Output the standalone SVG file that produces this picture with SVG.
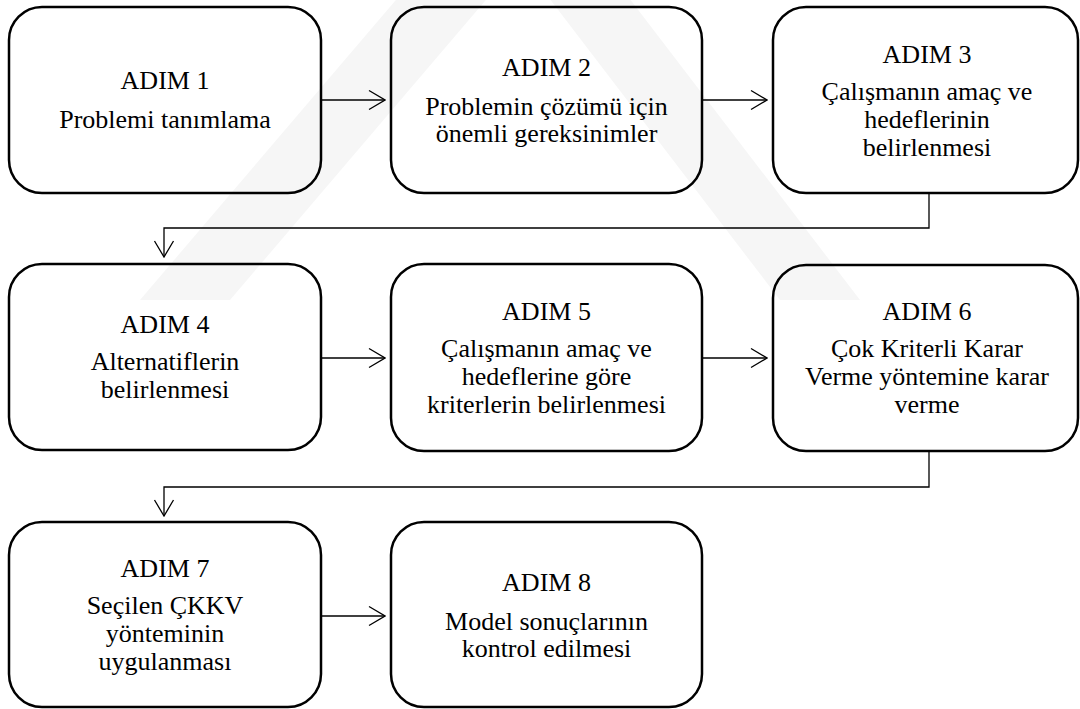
<svg xmlns="http://www.w3.org/2000/svg" width="1080" height="709" viewBox="0 0 1080 709">
  <defs>
    <marker id="arr" viewBox="0 0 18 22" refX="17" refY="11" markerWidth="18" markerHeight="22" markerUnits="userSpaceOnUse" orient="auto">
      <path d="M1,1.5 L17,11 L1,20.5" fill="none" stroke="#000" stroke-width="1.3"/>
    </marker>
  </defs>
  <style>
    .box { fill: none; stroke: #000; stroke-width: 2.5; }
    text { font-size: 26px; fill: #000; text-anchor: middle; }
    .t { font-family: 'Liberation Serif', 'Times New Roman', serif; }
    .c { fill: none; stroke: #000; stroke-width: 1.3; }
    .wm { fill: #f6f6f6; }
  </style>
  <rect width="1080" height="709" fill="#fff"/>
  <g id="watermark">
    <polygon class="wm" points="430,-40 520,-40 230,300 140,300"/>
    <polygon class="wm" points="520,-40 600,-40 860,300 780,300"/>
  </g>
  <g id="connectors">
    <line class="c" x1="321" y1="100" x2="385" y2="100" marker-end="url(#arr)"/>
    <line class="c" x1="702" y1="100" x2="767" y2="100" marker-end="url(#arr)"/>
    <polyline class="c" points="929,193 929,228 164,228 164,257" marker-end="url(#arr)"/>
    <line class="c" x1="321" y1="358" x2="385" y2="358" marker-end="url(#arr)"/>
    <line class="c" x1="702" y1="358" x2="767" y2="358" marker-end="url(#arr)"/>
    <polyline class="c" points="929,451 929,487 164,487 164,516" marker-end="url(#arr)"/>
    <line class="c" x1="321" y1="616" x2="385" y2="616" marker-end="url(#arr)"/>
  </g>
  <g id="n1">
    <rect class="box" x="9" y="7" width="312" height="186" rx="33"/>
    <text class="t" x="165" y="89">ADIM 1</text>
    <text class="t" x="165" y="128">Problemi tanımlama</text>
  </g>
  <g id="n2">
    <rect class="box" x="391" y="7" width="311" height="186" rx="33"/>
    <text class="t" x="546.5" y="76">ADIM 2</text>
    <text class="t" x="546.5" y="115">Problemin çözümü için</text>
    <text class="t" x="546.5" y="142">önemli gereksinimler</text>
  </g>
  <g id="n3">
    <rect class="box" x="773" y="7" width="305" height="186" rx="33"/>
    <text class="t" x="927" y="63">ADIM 3</text>
    <text class="t" x="927" y="100">Çalışmanın amaç ve</text>
    <text class="t" x="927" y="128">hedeflerinin</text>
    <text class="t" x="927" y="156">belirlenmesi</text>
  </g>
  <g id="n4">
    <rect class="box" x="9" y="264" width="312" height="186" rx="33"/>
    <text class="t" x="165" y="333">ADIM 4</text>
    <text class="t" x="165" y="370">Alternatiflerin</text>
    <text class="t" x="165" y="398">belirlenmesi</text>
  </g>
  <g id="n5">
    <rect class="box" x="391" y="264" width="311" height="187" rx="33"/>
    <text class="t" x="546.5" y="320">ADIM 5</text>
    <text class="t" x="546.5" y="357">Çalışmanın amaç ve</text>
    <text class="t" x="546.5" y="385">hedeflerine göre</text>
    <text class="t" x="546.5" y="413">kriterlerin belirlenmesi</text>
  </g>
  <g id="n6">
    <rect class="box" x="773" y="265" width="305" height="186" rx="33"/>
    <text class="t" x="927" y="320">ADIM 6</text>
    <text class="t" x="927" y="357">Çok Kriterli Karar</text>
    <text class="t" x="927" y="385">Verme yöntemine karar</text>
    <text class="t" x="927" y="413">verme</text>
  </g>
  <g id="n7">
    <rect class="box" x="9" y="522" width="312" height="185" rx="33"/>
    <text class="t" x="165" y="577">ADIM 7</text>
    <text class="t" x="165" y="614">Seçilen ÇKKV</text>
    <text class="t" x="165" y="642">yönteminin</text>
    <text class="t" x="165" y="670">uygulanması</text>
  </g>
  <g id="n8">
    <rect class="box" x="391" y="522" width="311" height="185" rx="33"/>
    <text class="t" x="546.5" y="591">ADIM 8</text>
    <text class="t" x="546.5" y="630">Model sonuçlarının</text>
    <text class="t" x="546.5" y="657">kontrol edilmesi</text>
  </g>
</svg>
